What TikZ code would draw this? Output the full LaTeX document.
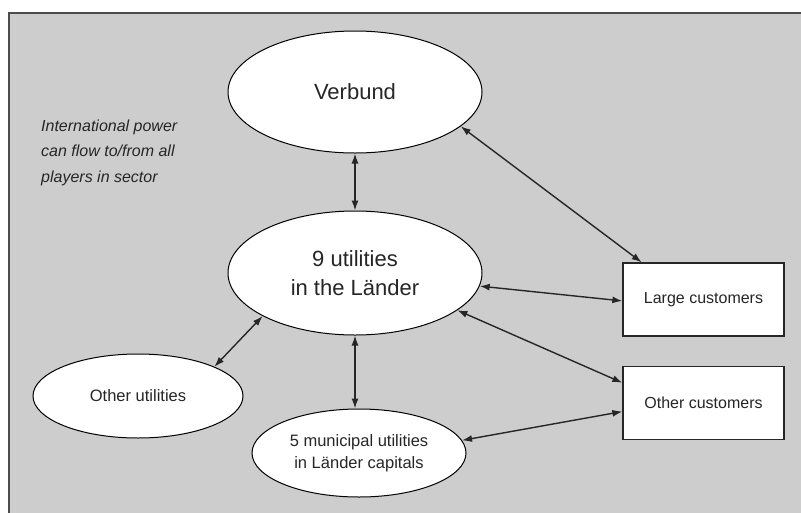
\documentclass[tikz,border=0pt]{standalone}
\usepackage{fontspec}
\setmainfont{Liberation Sans}
\usetikzlibrary{arrows.meta,shapes.geometric}
\definecolor{bg}{HTML}{CDCDCD}
\definecolor{txt}{HTML}{262626}
\begin{document}
\begin{tikzpicture}[x=1pt,y=-1pt,
  ell/.style={ellipse,draw=black,line width=1pt,fill=white,inner sep=0pt,text=txt,align=center},
  box/.style={rectangle,draw=black!85,line width=1.3pt,fill=white,inner sep=0pt,text=txt,minimum width=161pt,minimum height=73pt},
  link/.style={line width=1.4pt,draw=black!85,{Latex[length=10pt,width=7pt]}-{Latex[length=10pt,width=7pt]}}]
\useasboundingbox (0,0) rectangle (801,512);
\begin{scope}
\clip (0,0) rectangle (801,512);
\draw[fill=bg,draw=black!70,line width=1.5pt] (9,13) rectangle (830,540);
\end{scope}
\node[ell,minimum width=254pt,minimum height=122pt,font=\fontsize{22}{26}\selectfont] (verbund) at (355,92) {Verbund};
\node[ell,minimum width=254pt,minimum height=124pt,font=\fontsize{22}{29}\selectfont] (nine) at (355,273) {9 utilities\\in the Länder};
\node[ell,minimum width=210pt,minimum height=84pt,font=\fontsize{16.5}{20}\selectfont] (otherutil) at (138,396) {Other utilities};
\node[ell,minimum width=214pt,minimum height=88pt,font=\fontsize{16.5}{22}\selectfont] (muni) at (359,453) {5 municipal utilities\\in Länder capitals};
\node[box,font=\fontsize{16}{20}\selectfont] (large) at (703.5,299.5) {Large customers};
\node[box,font=\fontsize{16}{20}\selectfont] (othercust) at (703.5,403) {Other customers};
\node[anchor=west,align=left,text=txt,inner sep=0pt,font=\itshape\fontsize{16}{25.5}\selectfont] (note) at (41,152.5) {International power\\can flow to/from all\\players in sector};
\draw[link] (verbund.south) -- (nine.north);
\draw[link] (verbund.342.6) -- (large.149.3);
\draw[link] (nine.-6.8) -- (large.181.8);
\draw[link] (nine.-20.4) -- (othercust.166);
\draw[link] (nine.205.3) -- (otherutil.21.9);
\draw[link] (nine.south) -- (nine.south |- muni.north);
\draw[link] (muni.7.8) -- (othercust.186.4);
\end{tikzpicture}
\end{document}
